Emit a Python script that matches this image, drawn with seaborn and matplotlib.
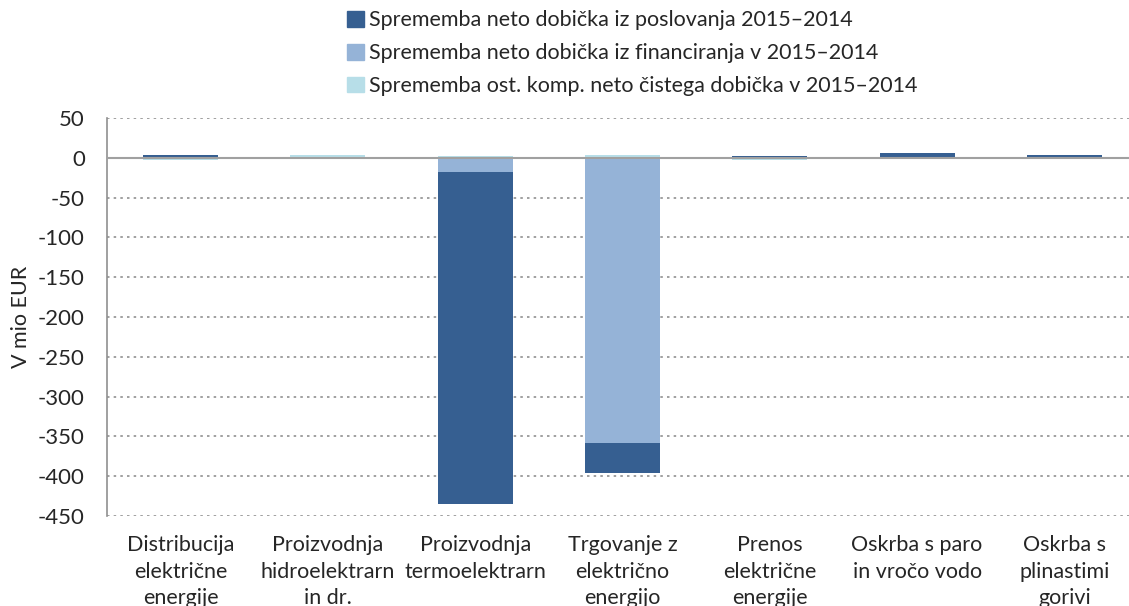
import numpy as np
import pandas as pd
import seaborn as sns
import matplotlib.pyplot as plt
from matplotlib.patches import Patch

# kategorije in vrednosti (mio EUR)
categories = ['Distribucija\nelektrične\nenergije', 'Proizvodnja\nhidroelektrarn\nin dr.',
              'Proizvodnja\ntermoelektrarn', 'Trgovanje z\nelektrično\nenergijo',
              'Prenos\nelektrične\nenergije', 'Oskrba s paro\nin vročo vodo',
              'Oskrba s\nplinastimi\ngorivi']
poslovanje = [3, -2, -417, -38, 2, 6, 3]
financiranje = [0, 0, -18, -358, 0, 0, 0]
ostalo = [-3, 4, 2, 4, -3, 0, 0]
series_names = ['Sprememba neto dobička iz poslovanja 2015–2014',
                'Sprememba neto dobička iz financiranja v 2015–2014',
                'Sprememba ost. komp. neto čistega dobička v 2015–2014']
colors = ['#365F91', '#95B3D7', '#B7DEE8']
yticks = list(range(-450, 51, 50))

sns.set_style('white')
plt.rcParams['font.family'] = ['Lato', 'DejaVu Sans']

fig = plt.figure(figsize=(11.29, 6.06), dpi=100)
ax = fig.add_axes([107 / 1129, 90 / 606, 1031 / 1129, 398 / 606])

# zlaganje: pozitivne in negativne vrednosti posebej
pos = np.zeros(len(categories))
neg = np.zeros(len(categories))
for vals, col in [(financiranje, colors[1]), (poslovanje, colors[0]), (ostalo, colors[2])]:
    vals = np.array(vals, dtype=float)
    bottom = np.where(vals >= 0, pos, neg)
    df = pd.DataFrame({'kat': categories, 'val': vals})
    sns.barplot(data=df, x='kat', y='val', bottom=bottom, color=col, width=0.51,
                saturation=1, edgecolor=col, linewidth=0, ax=ax, zorder=3)
    pos = pos + np.where(vals > 0, vals, 0)
    neg = neg + np.where(vals < 0, vals, 0)

ax.set_xlim(-0.5, 6.5)
ax.set_ylim(-450, 50)
ax.set_yticks(yticks)
ax.set_yticklabels([str(t) for t in yticks], fontsize=16)
ax.tick_params(axis='x', labelsize=15.5, pad=14, length=0)
ax.tick_params(axis='y', length=0, pad=16)
for lbl in ax.get_xticklabels():
    lbl.set_linespacing(1.4)
ax.set_xlabel('')
ax.set_ylabel('V mio EUR', fontsize=15.5, labelpad=5)

for t in yticks:
    if t == 0:
        ax.axhline(0, color='#a0a0a0', lw=1.5, zorder=4)
    else:
        ax.axhline(t, color='#909090', lw=1.2, ls=(0, (1.5, 2.5)), zorder=1)

for s in ['top', 'right', 'bottom']:
    ax.spines[s].set_visible(False)
ax.spines['left'].set_color('#909090')
ax.spines['left'].set_linewidth(1.2)

handles = [Patch(facecolor=c, edgecolor=c) for c in colors]
fig.legend(handles, series_names, loc='upper left', bbox_to_anchor=(328 / 1129, 1.015),
           frameon=False, fontsize=15.5, handlelength=0.75, handleheight=0.75,
           handletextpad=0.25, labelspacing=0.6)

fig.savefig('out.png', dpi=100)
